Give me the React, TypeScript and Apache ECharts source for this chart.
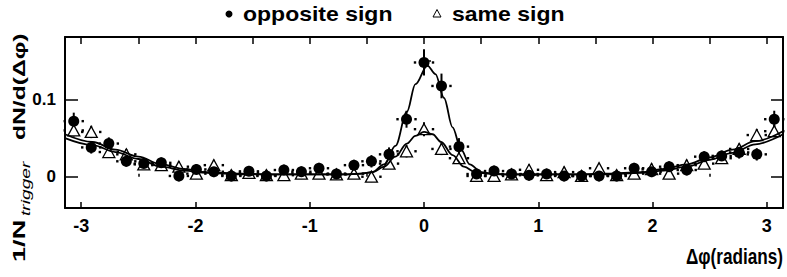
import React, { useEffect, useRef } from "react";
import * as echarts from "echarts";

// bin centres (radians)
const PHI = [
  -3.065, -2.912, -2.758, -2.605, -2.452, -2.299, -2.145, -1.992, -1.839, -1.686,
  -1.532, -1.379, -1.226, -1.073, -0.919, -0.766, -0.613, -0.46, -0.306, -0.153,
  0,
  0.153, 0.306, 0.46, 0.613, 0.766, 0.919, 1.073, 1.226, 1.379, 1.532,
  1.686, 1.839, 1.992, 2.145, 2.299, 2.452, 2.605, 2.758, 2.912, 3.065,
];

const oppositeSign = [
  0.072, 0.038, 0.043, 0.02, 0.017, 0.018, 0.001, 0.0095, 0.0065, 0.001,
  0.007, 0.001, 0.0087, 0.0065, 0.011, 0.0035, 0.015, 0.02, 0.029, 0.0745,
  0.148,
  0.1176, 0.039, 0.0035, 0.0074, 0.0035, 0.002, 0.0035, 0.001, 0.001, 0.001,
  0.001, 0.011, 0.0065, 0.013, 0.0087, 0.026, 0.027, 0.0315, 0.029, 0.0745,
];
const oppositeErr = [
  0.011, 0.008, 0.008, 0.007, 0.007, 0.007, 0.007, 0.007, 0.007, 0.007,
  0.007, 0.007, 0.007, 0.007, 0.007, 0.007, 0.007, 0.008, 0.009, 0.011,
  0.017,
  0.016, 0.011, 0.007, 0.007, 0.007, 0.007, 0.007, 0.007, 0.007, 0.007,
  0.007, 0.007, 0.007, 0.007, 0.007, 0.007, 0.007, 0.008, 0.008, 0.011,
];

const sameSign = [
  0.06, 0.058, 0.032, 0.029, 0.016, 0.015, 0.013, 0.004, 0.015, 0.002,
  0.005, 0.002, 0.002, 0.004, 0.004, 0.003, 0.004, 0.0, 0.017, 0.033,
  0.0616,
  0.036, 0.024, 0.001, 0.001, 0.003, 0.009, 0.002, 0.006, 0.001, 0.011,
  0.002, 0.004, 0.01, 0.004, 0.015, 0.017, 0.024, 0.036, 0.054, 0.059,
];
const sameErr = [
  0.008, 0.008, 0.007, 0.007, 0.007, 0.007, 0.007, 0.007, 0.007, 0.007,
  0.007, 0.007, 0.007, 0.007, 0.007, 0.007, 0.007, 0.007, 0.007, 0.008,
  0.009,
  0.008, 0.007, 0.007, 0.007, 0.007, 0.007, 0.007, 0.007, 0.007, 0.007,
  0.007, 0.007, 0.007, 0.007, 0.007, 0.007, 0.007, 0.007, 0.008, 0.008,
];

// fit curves: [dphi, value]
const oppositeFit = [
  [-3.1416, 0.055], [-2.9, 0.045], [-2.7, 0.035], [-2.5, 0.026], [-2.3, 0.016],
  [-2.1, 0.01], [-1.9, 0.006], [-1.6, 0.004], [-1.3, 0.003], [-1.0, 0.003],
  [-0.7, 0.003], [-0.55, 0.004], [-0.45, 0.006], [-0.35, 0.016], [-0.25, 0.04],
  [-0.15, 0.084], [-0.075, 0.12], [0.03, 0.144], [0.1, 0.133], [0.175, 0.102],
  [0.25, 0.064], [0.325, 0.035], [0.4, 0.016], [0.5, 0.006], [0.6, 0.004],
  [0.75, 0.003], [1.0, 0.003], [1.3, 0.003], [1.6, 0.004], [1.9, 0.006],
  [2.1, 0.01], [2.3, 0.016], [2.5, 0.025], [2.7, 0.035], [2.9, 0.046], [3.1416, 0.059],
];
const sameFit = [
  [-3.1416, 0.05], [-2.9, 0.041], [-2.7, 0.032], [-2.5, 0.023], [-2.3, 0.013],
  [-2.1, 0.008], [-1.9, 0.005], [-1.6, 0.003], [-1.3, 0.003], [-1.0, 0.003],
  [-0.7, 0.003], [-0.55, 0.004], [-0.45, 0.006], [-0.35, 0.013], [-0.25, 0.026],
  [-0.15, 0.043], [-0.075, 0.053], [0.0, 0.058], [0.075, 0.055], [0.15, 0.045],
  [0.25, 0.028], [0.35, 0.013], [0.45, 0.006], [0.55, 0.004], [0.7, 0.003],
  [1.0, 0.003], [1.3, 0.003], [1.6, 0.003], [1.9, 0.005], [2.1, 0.008],
  [2.3, 0.013], [2.5, 0.022], [2.7, 0.031], [2.9, 0.042], [3.1416, 0.055],
];

const xMajorTicks = [-3, -2, -1, 0, 1, 2, 3];
const xMinorTicks = [-2.5, -1.5, -0.5, 0.5, 1.5, 2.5];
const xTopTicks = [-3, -2.5, -2, -1.5, -1, -0.5, 0, 0.5, 1, 1.5, 2, 2.5, 3];
const yMajorTicks = [0, 0.1];
const yMinorTicks = [0.15];

const FONT = '"Liberation Sans", Arial, Helvetica, sans-serif';
const X_MIN = -3.1416;
const X_MAX = 3.1416;
const Y_MIN = -0.0405;
const Y_MAX = 0.181;

function errorBarItem(params: any, api: any) {
  const x = api.value(0);
  const y = api.value(1);
  const e = api.value(2);
  const p = api.coord([x, y]);
  const top = api.coord([x, y + e]);
  const bot = api.coord([x, y - e]);
  const d = 2.4;
  return {
    type: "group",
    children: [
      {
        type: "line",
        shape: { x1: p[0], y1: top[1], x2: p[0], y2: bot[1] },
        style: { stroke: "#000", lineWidth: 2 },
      },
      { type: "rect", shape: { x: p[0] - 9 - d / 2, y: p[1] - d / 2, width: d, height: d }, style: { fill: "#000" } },
      { type: "rect", shape: { x: p[0] + 9 - d / 2, y: p[1] - d / 2, width: d, height: d }, style: { fill: "#000" } },
    ],
  };
}

export default function App() {
  const ref = useRef<HTMLDivElement>(null);

  useEffect(() => {
    if (!ref.current) return;
    document.body.style.margin = "0";
    const chart = echarts.init(ref.current, null, { renderer: "svg" });

    const oppData = PHI.map((x, i) => [x, oppositeSign[i], oppositeErr[i]]);
    const sameData = PHI.map((x, i) => [x, sameSign[i], sameErr[i]]);

    const baseX = {
      type: "value",
      min: X_MIN,
      max: X_MAX,
      splitLine: { show: false },
      axisLabel: { show: false },
      axisTick: { show: false },
      axisLine: { show: false },
    };
    const baseY = {
      type: "value",
      min: Y_MIN,
      max: Y_MAX,
      splitLine: { show: false },
      axisLabel: { show: false },
      axisTick: { show: false },
      axisLine: { show: false },
    };

    chart.setOption({
      animation: false,
      backgroundColor: "#fff",
      grid: { left: 65, right: 4, top: 37, bottom: 69, containLabel: false },
      xAxis: [
        {
          ...baseX,
          position: "bottom",
          axisLine: { show: true, onZero: false, lineStyle: { color: "#000", width: 2 } },
          axisTick: {
            show: true,
            inside: true,
            length: 6,
            customValues: xMajorTicks,
            lineStyle: { color: "#000", width: 1.5 },
          },
          axisLabel: {
            show: true,
            customValues: xMajorTicks,
            margin: 9,
            fontSize: 18,
            fontWeight: "bold",
            fontFamily: FONT,
            color: "#000",
            formatter: (v: number) => String(v),
          },
        },
        {
          ...baseX,
          position: "bottom",
          axisTick: {
            show: true,
            inside: true,
            length: 3,
            customValues: xMinorTicks,
            lineStyle: { color: "#000", width: 1.5 },
          },
        },
        {
          ...baseX,
          position: "top",
          axisLine: { show: true, onZero: false, lineStyle: { color: "#000", width: 2 } },
          axisTick: {
            show: true,
            inside: true,
            length: 7,
            customValues: xTopTicks,
            lineStyle: { color: "#000", width: 1.5 },
          },
        },
      ],
      yAxis: [
        {
          ...baseY,
          position: "left",
          axisLine: { show: true, onZero: false, lineStyle: { color: "#000", width: 2 } },
          axisTick: {
            show: true,
            inside: true,
            length: 13,
            customValues: yMajorTicks,
            lineStyle: { color: "#000", width: 1.5 },
          },
          axisLabel: {
            show: true,
            customValues: yMajorTicks,
            margin: 9,
            fontSize: 17,
            fontWeight: "bold",
            fontFamily: FONT,
            color: "#000",
            formatter: (v: number) => (v === 0 ? "0" : String(v)),
          },
        },
        {
          ...baseY,
          position: "left",
          axisTick: {
            show: true,
            inside: true,
            length: 7,
            customValues: yMinorTicks,
            lineStyle: { color: "#000", width: 1.5 },
          },
        },
        {
          ...baseY,
          position: "right",
          axisLine: { show: true, onZero: false, lineStyle: { color: "#000", width: 2 } },
          axisTick: {
            show: true,
            inside: true,
            length: 12,
            customValues: yMajorTicks,
            lineStyle: { color: "#000", width: 1.5 },
          },
        },
        {
          ...baseY,
          position: "right",
          axisTick: {
            show: true,
            inside: true,
            length: 5,
            customValues: yMinorTicks,
            lineStyle: { color: "#000", width: 1.5 },
          },
        },
      ],
      series: [
        {
          name: "same sign err",
          type: "custom",
          xAxisIndex: 0,
          yAxisIndex: 0,
          renderItem: errorBarItem,
          data: sameData,
          z: 2,
          silent: true,
        },
        {
          name: "opposite sign err",
          type: "custom",
          xAxisIndex: 0,
          yAxisIndex: 0,
          renderItem: errorBarItem,
          data: oppData,
          z: 2,
          silent: true,
        },
        {
          name: "same sign",
          type: "scatter",
          data: sameData.map((d) => [d[0], d[1]]),
          symbol: "triangle",
          symbolSize: [12, 11],
          itemStyle: { color: "#fff", borderColor: "#000", borderWidth: 1.3, opacity: 1 },
          z: 3,
        },
        {
          name: "opposite sign",
          type: "scatter",
          data: oppData.map((d) => [d[0], d[1]]),
          symbol: "circle",
          symbolSize: 11,
          itemStyle: { color: "#000", opacity: 1 },
          z: 4,
        },
        {
          name: "same fit",
          type: "line",
          data: sameFit,
          showSymbol: false,
          smooth: 0.35,
          smoothMonotone: "x",
          lineStyle: { color: "#000", width: 1.8 },
          z: 5,
          silent: true,
        },
        {
          name: "opposite fit",
          type: "line",
          data: oppositeFit,
          showSymbol: false,
          smooth: 0.35,
          smoothMonotone: "x",
          lineStyle: { color: "#000", width: 1.8 },
          z: 5,
          silent: true,
        },
      ],
      graphic: [
        { type: "circle", shape: { cx: 229, cy: 14, r: 3.5 }, style: { fill: "#000" } },
        {
          type: "text",
          x: 243,
          y: 14,
          scaleX: 1.15,
          style: {
            text: "opposite sign",
            font: `bold 20px ${FONT}`,
            fill: "#000",
            align: "left",
            verticalAlign: "middle",
          },
        },
        {
          type: "polygon",
          shape: { points: [[437, 9.5], [433, 17], [441, 17]] },
          style: { fill: "#fff", stroke: "#000", lineWidth: 1 },
        },
        {
          type: "text",
          x: 452,
          y: 14,
          scaleX: 1.15,
          style: {
            text: "same sign",
            font: `bold 20px ${FONT}`,
            fill: "#000",
            align: "left",
            verticalAlign: "middle",
          },
        },
        {
          type: "text",
          x: 783,
          y: 256,
          scaleX: 0.78,
          style: {
            text: "Δφ(radians)",
            font: `bold 22px ${FONT}`,
            fill: "#000",
            align: "right",
            verticalAlign: "middle",
          },
        },
        {
          type: "text",
          x: 19,
          y: 262,
          rotation: Math.PI / 2,
          scaleX: 1.6,
          style: {
            text: "1/N",
            font: `bold 17px ${FONT}`,
            fill: "#000",
            align: "left",
            verticalAlign: "middle",
          },
        },
        {
          type: "text",
          x: 26,
          y: 216,
          rotation: Math.PI / 2,
          scaleX: 1.6,
          style: {
            text: "trigger",
            font: `italic 12px ${FONT}`,
            fill: "#000",
            align: "left",
            verticalAlign: "middle",
          },
        },
        {
          type: "text",
          x: 19,
          y: 140,
          rotation: Math.PI / 2,
          scaleX: 1.45,
          style: {
            text: "dN/d(Δφ)",
            font: `bold 17px ${FONT}`,
            fill: "#000",
            align: "left",
            verticalAlign: "middle",
          },
        },
      ],
    });

    return () => chart.dispose();
  }, []);

  return (
    <div
      ref={ref}
      style={{ position: "fixed", left: 0, top: 0, width: 787, height: 277 }}
    />
  );
}
